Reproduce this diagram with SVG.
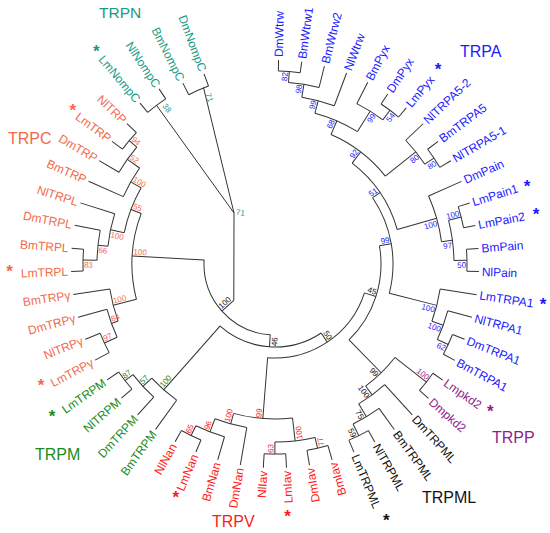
<svg xmlns="http://www.w3.org/2000/svg" width="550" height="533" viewBox="0 0 550 533">
<style>
text{font-family:"Liberation Sans",Arial,sans-serif}
.lf{font-size:12px}
.bs{font-size:8px}
.cl{font-size:16px}
.st{font-size:17px;font-weight:bold;text-anchor:middle}
.cN{fill:#1a9a84}.cC{fill:#f26a4b}.cM{fill:#1b8c1b}.cV{fill:#ff1a1a}.cA{fill:#1a1aff}.cP{fill:#8e1f8e}.cK{fill:#111}
.e{text-anchor:end}
</style>
<rect width="550" height="533" fill="#fff"/>
<g id="connectors" transform="translate(275,264)" fill="none" stroke="#333" stroke-width="1">
<circle r="193" stroke-dasharray="21.93 2000" transform="rotate(-89)"/>
<circle r="182" stroke-dasharray="31.03 2000" transform="rotate(-85.75)"/>
<circle r="169" stroke-dasharray="33.60 2000" transform="rotate(-80.86)"/>
<circle r="192" stroke-dasharray="21.82 2000" transform="rotate(-56.45)"/>
<circle r="180" stroke-dasharray="30.66 2000" transform="rotate(-62.96)"/>
<circle r="156" stroke-dasharray="46.53 2000" transform="rotate(-75.17)"/>
<circle r="191" stroke-dasharray="21.70 2000" transform="rotate(-36.92)"/>
<circle r="180" stroke-dasharray="30.66 2000" transform="rotate(-43.43)"/>
<circle r="141" stroke-dasharray="69.08 2000" transform="rotate(-66.62)"/>
<circle r="192" stroke-dasharray="21.82 2000" transform="rotate(-17.39)"/>
<circle r="192" stroke-dasharray="21.82 2000" transform="rotate(-4.37)"/>
<circle r="179" stroke-dasharray="40.68 2000" transform="rotate(-14.14)"/>
<circle r="168" stroke-dasharray="47.71 2000" transform="rotate(-23.9)"/>
<circle r="127" stroke-dasharray="81.61 2000" transform="rotate(-52.59)"/>
<circle r="191" stroke-dasharray="21.70 2000" transform="rotate(21.67)"/>
<circle r="179" stroke-dasharray="30.52 2000" transform="rotate(15.16)"/>
<circle r="167" stroke-dasharray="33.20 2000" transform="rotate(8.65)"/>
<circle r="118" stroke-dasharray="99.95 2000" transform="rotate(-34.18)"/>
<circle r="192" stroke-dasharray="21.82 2000" transform="rotate(34.69)"/>
<circle r="191" stroke-dasharray="21.70 2000" transform="rotate(60.73)"/>
<circle r="178" stroke-dasharray="30.35 2000" transform="rotate(54.22)"/>
<circle r="163" stroke-dasharray="32.40 2000" transform="rotate(47.71)"/>
<circle r="152" stroke-dasharray="40.99 2000" transform="rotate(37.95)"/>
<circle r="106" stroke-dasharray="102.86 2000" transform="rotate(-9.92)"/>
<circle r="189" stroke-dasharray="21.47 2000" transform="rotate(73.75)"/>
<circle r="190" stroke-dasharray="21.59 2000" transform="rotate(86.77)"/>
<circle r="178" stroke-dasharray="40.48 2000" transform="rotate(77)"/>
<circle r="191" stroke-dasharray="21.70 2000" transform="rotate(112.81)"/>
<circle r="180" stroke-dasharray="30.69 2000" transform="rotate(106.3)"/>
<circle r="166" stroke-dasharray="33.00 2000" transform="rotate(99.79)"/>
<circle r="155" stroke-dasharray="59.46 2000" transform="rotate(83.51)"/>
<circle r="94" stroke-dasharray="125.71 2000" transform="rotate(17.88)"/>
<circle r="190" stroke-dasharray="21.59 2000" transform="rotate(138.85)"/>
<circle r="180" stroke-dasharray="30.66 2000" transform="rotate(132.34)"/>
<circle r="168" stroke-dasharray="33.34 2000" transform="rotate(125.83)"/>
<circle r="83" stroke-dasharray="109.08 2000" transform="rotate(56.2)"/>
<circle r="71" stroke-dasharray="110.72 2000" transform="rotate(93.85)"/>
<circle r="188" stroke-dasharray="21.36 2000" transform="rotate(151.87)"/>
<circle r="174" stroke-dasharray="29.64 2000" transform="rotate(155.13)"/>
<circle r="167" stroke-dasharray="33.20 2000" transform="rotate(160.01)"/>
<circle r="192" stroke-dasharray="21.82 2000" transform="rotate(177.91)"/>
<circle r="178" stroke-dasharray="30.32 2000" transform="rotate(181.17)"/>
<circle r="168" stroke-dasharray="33.40 2000" transform="rotate(186.05)"/>
<circle r="191" stroke-dasharray="21.70 2000" transform="rotate(216.97)"/>
<circle r="181" stroke-dasharray="30.86 2000" transform="rotate(210.46)"/>
<circle r="166" stroke-dasharray="33.00 2000" transform="rotate(203.95)"/>
<circle r="154" stroke-dasharray="48.11 2000" transform="rotate(191.75)"/>
<circle r="143" stroke-dasharray="87.36 2000" transform="rotate(165.7)"/>
<circle r="198" stroke-dasharray="22.50 2000" transform="rotate(229.99)"/>
<circle r="190" stroke-dasharray="21.59 2000" transform="rotate(243.01)"/>
<line x1="193" x2="204" transform="rotate(-89)"/>
<line x1="193" x2="204" transform="rotate(-82.49)"/>
<line x1="182" x2="204" transform="rotate(-75.98)"/>
<line x1="169" x2="204" transform="rotate(-69.47)"/>
<line x1="180" x2="204" transform="rotate(-62.96)"/>
<line x1="192" x2="204" transform="rotate(-56.45)"/>
<line x1="192" x2="204" transform="rotate(-49.94)"/>
<line x1="180" x2="204" transform="rotate(-43.43)"/>
<line x1="191" x2="204" transform="rotate(-36.92)"/>
<line x1="191" x2="204" transform="rotate(-30.41)"/>
<line x1="168" x2="204" transform="rotate(-23.9)"/>
<line x1="192" x2="204" transform="rotate(-17.39)"/>
<line x1="192" x2="204" transform="rotate(-10.88)"/>
<line x1="192" x2="204" transform="rotate(-4.37)"/>
<line x1="192" x2="204" transform="rotate(2.14)"/>
<line x1="167" x2="204" transform="rotate(8.65)"/>
<line x1="179" x2="204" transform="rotate(15.16)"/>
<line x1="191" x2="204" transform="rotate(21.67)"/>
<line x1="191" x2="204" transform="rotate(28.18)"/>
<line x1="192" x2="204" transform="rotate(34.69)"/>
<line x1="192" x2="204" transform="rotate(41.2)"/>
<line x1="163" x2="204" transform="rotate(47.71)"/>
<line x1="178" x2="204" transform="rotate(54.22)"/>
<line x1="191" x2="204" transform="rotate(60.73)"/>
<line x1="191" x2="204" transform="rotate(67.24)"/>
<line x1="189" x2="204" transform="rotate(73.75)"/>
<line x1="189" x2="204" transform="rotate(80.26)"/>
<line x1="190" x2="204" transform="rotate(86.77)"/>
<line x1="190" x2="204" transform="rotate(93.28)"/>
<line x1="166" x2="204" transform="rotate(99.79)"/>
<line x1="180" x2="204" transform="rotate(106.3)"/>
<line x1="191" x2="204" transform="rotate(112.81)"/>
<line x1="191" x2="204" transform="rotate(119.32)"/>
<line x1="168" x2="204" transform="rotate(125.83)"/>
<line x1="180" x2="204" transform="rotate(132.34)"/>
<line x1="190" x2="204" transform="rotate(138.85)"/>
<line x1="190" x2="204" transform="rotate(145.36)"/>
<line x1="188" x2="204" transform="rotate(151.87)"/>
<line x1="188" x2="204" transform="rotate(158.38)"/>
<line x1="174" x2="204" transform="rotate(164.89)"/>
<line x1="167" x2="204" transform="rotate(171.4)"/>
<line x1="192" x2="204" transform="rotate(177.91)"/>
<line x1="192" x2="204" transform="rotate(184.42)"/>
<line x1="178" x2="204" transform="rotate(190.93)"/>
<line x1="168" x2="204" transform="rotate(197.44)"/>
<line x1="166" x2="204" transform="rotate(203.95)"/>
<line x1="181" x2="204" transform="rotate(210.46)"/>
<line x1="191" x2="204" transform="rotate(216.97)"/>
<line x1="191" x2="204" transform="rotate(223.48)"/>
<line x1="198" x2="210" transform="rotate(229.99)"/>
<line x1="198" x2="210" transform="rotate(236.5)"/>
<line x1="190" x2="203" transform="rotate(243.01)"/>
<line x1="190" x2="203" transform="rotate(249.52)"/>
<line x1="182" x2="193" transform="rotate(-85.75)"/>
<line x1="169" x2="182" transform="rotate(-80.86)"/>
<line x1="156" x2="169" transform="rotate(-75.17)"/>
<line x1="180" x2="192" transform="rotate(-53.2)"/>
<line x1="156" x2="180" transform="rotate(-58.08)"/>
<line x1="141" x2="156" transform="rotate(-66.62)"/>
<line x1="180" x2="191" transform="rotate(-33.67)"/>
<line x1="141" x2="180" transform="rotate(-38.55)"/>
<line x1="127" x2="141" transform="rotate(-52.59)"/>
<line x1="179" x2="192" transform="rotate(-14.14)"/>
<line x1="179" x2="192" transform="rotate(-1.12)"/>
<line x1="168" x2="179" transform="rotate(-7.63)"/>
<line x1="127" x2="168" transform="rotate(-15.77)"/>
<line x1="118" x2="127" transform="rotate(-34.18)"/>
<line x1="179" x2="191" transform="rotate(24.93)"/>
<line x1="167" x2="179" transform="rotate(20.04)"/>
<line x1="118" x2="167" transform="rotate(14.35)"/>
<line x1="106" x2="118" transform="rotate(-9.92)"/>
<line x1="152" x2="192" transform="rotate(37.95)"/>
<line x1="178" x2="191" transform="rotate(63.99)"/>
<line x1="163" x2="178" transform="rotate(59.1)"/>
<line x1="152" x2="163" transform="rotate(53.4)"/>
<line x1="106" x2="152" transform="rotate(45.68)"/>
<line x1="94" x2="106" transform="rotate(17.88)"/>
<line x1="178" x2="189" transform="rotate(77)"/>
<line x1="178" x2="190" transform="rotate(90.03)"/>
<line x1="155" x2="178" transform="rotate(83.51)"/>
<line x1="180" x2="191" transform="rotate(116.07)"/>
<line x1="166" x2="180" transform="rotate(111.18)"/>
<line x1="155" x2="166" transform="rotate(105.49)"/>
<line x1="94" x2="155" transform="rotate(94.5)"/>
<line x1="83" x2="94" transform="rotate(56.2)"/>
<line x1="180" x2="190" transform="rotate(142.1)"/>
<line x1="168" x2="180" transform="rotate(137.2)"/>
<line x1="83" x2="168" transform="rotate(131.5)"/>
<line x1="71" x2="83" transform="rotate(93.85)"/>
<line x1="174" x2="188" transform="rotate(155.13)"/>
<line x1="167" x2="174" transform="rotate(160.01)"/>
<line x1="143" x2="167" transform="rotate(165.7)"/>
<line x1="178" x2="192" transform="rotate(181.17)"/>
<line x1="168" x2="178" transform="rotate(186.05)"/>
<line x1="154" x2="168" transform="rotate(191.75)"/>
<line x1="181" x2="191" transform="rotate(220.23)"/>
<line x1="166" x2="181" transform="rotate(215.34)"/>
<line x1="154" x2="166" transform="rotate(209.65)"/>
<line x1="143" x2="154" transform="rotate(200.7)"/>
<line x1="71" x2="143" transform="rotate(183.2)"/>
<line x1="55" x2="71" transform="rotate(138.5)"/>
<path d="M-41.2,36.4 L-41,-51 M-41,-51 L-118.5,-158.7 M-41,-51 L-71.5,-176.5"/>
</g>
<g id="leaves" class="lf" transform="translate(275,264)">
<g id="n-DmWtrw" class="cA"><text x="207" y="4.2" transform="rotate(-89)">DmWtrw</text></g>
<g id="n-BmWtrw1" class="cA"><text x="207" y="4.2" transform="rotate(-82.49)">BmWtrw1</text></g>
<g id="n-BmWtrw2" class="cA"><text x="207" y="4.2" transform="rotate(-75.98)">BmWtrw2</text></g>
<g id="n-NlWtrw" class="cA"><text x="207" y="4.2" transform="rotate(-69.47)">NlWtrw</text></g>
<g id="n-BmPyx" class="cA"><text x="207" y="4.2" transform="rotate(-62.96)">BmPyx</text></g>
<g id="n-DmPyx" class="cA"><text x="207" y="4.2" transform="rotate(-56.45)">DmPyx</text></g>
<g id="n-LmPyx" class="cA"><text x="207" y="4.2" transform="rotate(-49.94)">LmPyx</text></g>
<g id="n-NlTRPA5-2" class="cA"><text x="207" y="4.2" transform="rotate(-43.43)">NlTRPA5-2</text></g>
<g id="n-BmTRPA5" class="cA"><text x="207" y="4.2" transform="rotate(-36.92)">BmTRPA5</text></g>
<g id="n-NlTRPA5-1" class="cA"><text x="207" y="4.2" transform="rotate(-30.41)">NlTRPA5-1</text></g>
<g id="n-DmPain" class="cA"><text x="207" y="4.2" transform="rotate(-23.9)">DmPain</text></g>
<g id="n-LmPain1" class="cA"><text x="207" y="4.2" transform="rotate(-17.39)">LmPain1</text></g>
<g id="n-LmPain2" class="cA"><text x="207" y="4.2" transform="rotate(-10.88)">LmPain2</text></g>
<g id="n-BmPain" class="cA"><text x="207" y="4.2" transform="rotate(-4.37)">BmPain</text></g>
<g id="n-NlPain" class="cA"><text x="207" y="4.2" transform="rotate(2.14)">NlPain</text></g>
<g id="n-LmTRPA1" class="cA"><text x="207" y="4.2" transform="rotate(8.65)">LmTRPA1</text></g>
<g id="n-NlTRPA1" class="cA"><text x="207" y="4.2" transform="rotate(15.16)">NlTRPA1</text></g>
<g id="n-DmTRPA1" class="cA"><text x="207" y="4.2" transform="rotate(21.67)">DmTRPA1</text></g>
<g id="n-BmTRPA1" class="cA"><text x="207" y="4.2" transform="rotate(28.18)">BmTRPA1</text></g>
<g id="n-Lmpkd2" class="cP"><text x="207" y="4.2" transform="rotate(34.69)">Lmpkd2</text></g>
<g id="n-Dmpkd2" class="cP"><text x="207" y="4.2" transform="rotate(41.2)">Dmpkd2</text></g>
<g id="n-DmTRPML" class="cK"><text x="207" y="4.2" transform="rotate(47.71)">DmTRPML</text></g>
<g id="n-BmTRPML" class="cK"><text x="207" y="4.2" transform="rotate(54.22)">BmTRPML</text></g>
<g id="n-NlTRPML" class="cK"><text x="207" y="4.2" transform="rotate(60.73)">NlTRPML</text></g>
<g id="n-LmTRPML" class="cK"><text x="207" y="4.2" transform="rotate(67.24)">LmTRPML</text></g>
<g id="n-BmIav" class="cV"><text class="e" x="-207" y="4.2" transform="rotate(-106.25)">BmIav</text></g>
<g id="n-DmIav" class="cV"><text class="e" x="-207" y="4.2" transform="rotate(-99.74)">DmIav</text></g>
<g id="n-LmIav" class="cV"><text class="e" x="-207" y="4.2" transform="rotate(-93.23)">LmIav</text></g>
<g id="n-NlIav" class="cV"><text class="e" x="-207" y="4.2" transform="rotate(-86.72)">NlIav</text></g>
<g id="n-DmNan" class="cV"><text class="e" x="-207" y="4.2" transform="rotate(-80.21)">DmNan</text></g>
<g id="n-BmNan" class="cV"><text class="e" x="-207" y="4.2" transform="rotate(-73.7)">BmNan</text></g>
<g id="n-LmNan" class="cV"><text class="e" x="-207" y="4.2" transform="rotate(-67.19)">LmNan</text></g>
<g id="n-NlNan" class="cV"><text class="e" x="-207" y="4.2" transform="rotate(-60.68)">NlNan</text></g>
<g id="n-BmTRPM" class="cM"><text class="e" x="-207" y="4.2" transform="rotate(-54.17)">BmTRPM</text></g>
<g id="n-DmTRPM" class="cM"><text class="e" x="-207" y="4.2" transform="rotate(-47.66)">DmTRPM</text></g>
<g id="n-NlTRPM" class="cM"><text class="e" x="-207" y="4.2" transform="rotate(-41.15)">NlTRPM</text></g>
<g id="n-LmTRPM" class="cM"><text class="e" x="-207" y="4.2" transform="rotate(-34.64)">LmTRPM</text></g>
<g id="n-LmTRPg" class="cC"><text class="e" x="-207" y="4.2" transform="rotate(-28.13)">LmTRPγ</text></g>
<g id="n-NlTRPg" class="cC"><text class="e" x="-207" y="4.2" transform="rotate(-21.62)">NlTRPγ</text></g>
<g id="n-DmTRPg" class="cC"><text class="e" x="-207" y="4.2" transform="rotate(-15.11)">DmTRPγ</text></g>
<g id="n-BmTRPg" class="cC"><text class="e" x="-207" y="4.2" transform="rotate(-8.6)">BmTRPγ</text></g>
<g id="n-LmTRPL" class="cC"><text class="e" x="-207" y="4.2" transform="rotate(-2.09)">LmTRPL</text></g>
<g id="n-BmTRPL" class="cC"><text class="e" x="-207" y="4.2" transform="rotate(4.42)">BmTRPL</text></g>
<g id="n-DmTRPL" class="cC"><text class="e" x="-207" y="4.2" transform="rotate(10.93)">DmTRPL</text></g>
<g id="n-NlTRPL" class="cC"><text class="e" x="-207" y="4.2" transform="rotate(17.44)">NlTRPL</text></g>
<g id="n-BmTRP" class="cC"><text class="e" x="-207" y="4.2" transform="rotate(23.95)">BmTRP</text></g>
<g id="n-DmTRP" class="cC"><text class="e" x="-207" y="4.2" transform="rotate(30.46)">DmTRP</text></g>
<g id="n-LmTRP" class="cC"><text class="e" x="-207" y="4.2" transform="rotate(36.97)">LmTRP</text></g>
<g id="n-NlTRP" class="cC"><text class="e" x="-207" y="4.2" transform="rotate(43.48)">NlTRP</text></g>
<g id="n-LmNompC" class="cN"><text class="e" x="-213" y="4.2" transform="rotate(49.99)">LmNompC</text></g>
<g id="n-NlNompC" class="cN"><text class="e" x="-213" y="4.2" transform="rotate(56.5)">NlNompC</text></g>
<g id="n-BmNompC" class="cN"><text class="e" x="-206" y="4.2" transform="rotate(63.01)">BmNompC</text></g>
<g id="n-DmNompC" class="cN"><text class="e" x="-206" y="4.2" transform="rotate(69.52)">DmNompC</text></g>
</g>
<g id="support" class="bs" transform="translate(275,264)">
<g class="cA">
<text class="e" x="192" y="-1.5" transform="rotate(-85.75)">82</text>
<text class="e" x="181" y="-1.5" transform="rotate(-80.86)">98</text>
<text class="e" x="168" y="-1.5" transform="rotate(-75.17)">99</text>
<text class="e" x="179" y="7.5" transform="rotate(-58.08)">99</text>
<text class="e" x="191" y="7.5" transform="rotate(-53.2)">54</text>
<text class="e" x="155" y="-1.5" transform="rotate(-66.62)">68</text>
<text class="e" x="190" y="7.5" transform="rotate(-33.67)">80</text>
<text class="e" x="179" y="7.5" transform="rotate(-38.55)">80</text>
<text class="e" x="140" y="-1.5" transform="rotate(-52.59)">92</text>
<text class="e" x="191" y="-1.5" transform="rotate(-14.14)">100</text>
<text class="e" x="191" y="7.5" transform="rotate(-1.12)">50</text>
<text class="e" x="178" y="7.5" transform="rotate(-7.63)">97</text>
<text class="e" x="167" y="7.5" transform="rotate(-15.77)">100</text>
<text class="e" x="126" y="-1.5" transform="rotate(-34.18)">51</text>
<text class="e" x="190" y="7.5" transform="rotate(24.93)">62</text>
<text class="e" x="178" y="7.5" transform="rotate(20.04)">100</text>
<text class="e" x="166" y="7.5" transform="rotate(14.35)">100</text>
<text class="e" x="117" y="-1.5" transform="rotate(-9.92)">99</text>
</g>
<text class="e cP" x="191" y="-1.5" transform="rotate(37.95)">100</text>
<g class="cK">
<text class="e" x="190" y="7.5" transform="rotate(63.99)">59</text>
<text class="e" x="177" y="7.5" transform="rotate(59.1)">75</text>
<text class="e" x="162" y="7.5" transform="rotate(53.4)">100</text>
<text class="e" x="151" y="7.5" transform="rotate(45.68)">99</text>
<text class="e" x="105" y="-1.5" transform="rotate(17.88)">45</text>
<text class="e" x="93" y="-1.5" transform="rotate(56.2)">50</text>
<text x="-82" y="7.5" transform="rotate(-86.15)">46</text>
<text x="-70" y="-1.5" transform="rotate(-41.5)">100</text>
</g>
<g class="cV">
<text x="-188" y="7.5" transform="rotate(-103)">77</text>
<text x="-189" y="-1.5" transform="rotate(-89.97)">63</text>
<text x="-177" y="7.5" transform="rotate(-96.49)">100</text>
<text x="-190" y="-1.5" transform="rotate(-63.93)">65</text>
<text x="-179" y="-1.5" transform="rotate(-68.82)">96</text>
<text x="-165" y="-1.5" transform="rotate(-74.51)">100</text>
<text x="-154" y="-1.5" transform="rotate(-85.5)">99</text>
</g>
<g class="cM">
<text x="-189" y="-1.5" transform="rotate(-37.9)">87</text>
<text x="-179" y="-1.5" transform="rotate(-42.8)">57</text>
<text x="-167" y="-1.5" transform="rotate(-48.5)">100</text>
</g>
<g class="cC">
<text x="-187" y="-1.5" transform="rotate(-24.87)">97</text>
<text x="-173" y="-1.5" transform="rotate(-19.99)">84</text>
<text x="-166" y="-1.5" transform="rotate(-14.3)">100</text>
<text x="-191" y="7.5" transform="rotate(1.17)">83</text>
<text x="-177" y="7.5" transform="rotate(6.05)">66</text>
<text x="-167" y="7.5" transform="rotate(11.75)">100</text>
<text x="-190" y="-1.5" transform="rotate(40.23)">94</text>
<text x="-180" y="-1.5" transform="rotate(35.34)">52</text>
<text x="-165" y="-1.5" transform="rotate(29.65)">100</text>
<text x="-153" y="-1.5" transform="rotate(20.7)">55</text>
<text x="-142" y="-1.5" transform="rotate(3.2)">100</text>
</g>
</g>
<g id="support-trpn" class="bs cN">
<text transform="translate(235.6,214.5) rotate(10)">71</text>
<text transform="translate(162.1,106) rotate(55)">38</text>
<text transform="translate(205.3,94.3) rotate(70)">71</text>
</g>
<g id="stars" class="st">
<text class="cN" x="96.3" y="57.3">*</text>
<text class="cC" x="72.8" y="115.6">*</text>
<text class="cC" x="9.5" y="276.5">*</text>
<text class="cC" x="41" y="390.6">*</text>
<text class="cM" x="52" y="422.3">*</text>
<text class="cV" x="175.8" y="502.8">*</text>
<text class="cV" x="287.5" y="522.3">*</text>
<text class="cK" x="386.2" y="525.6">*</text>
<text class="cP" x="490.3" y="416.8">*</text>
<text class="cA" x="543" y="309.5">*</text>
<text class="cA" x="536" y="219.8">*</text>
<text class="cA" x="527" y="191.8">*</text>
<text class="cA" x="438" y="75.3">*</text>
</g>
<g id="clade-labels" class="cl">
<g id="TRPN"><text class="cN" x="99" y="18" style="font-size:15.5px">TRPN</text></g>
<g id="TRPA"><text class="cA" x="460" y="56.5">TRPA</text></g>
<g id="TRPC"><text class="cC" x="8" y="143.5">TRPC</text></g>
<g id="TRPM"><text class="cM" x="35" y="460">TRPM</text></g>
<g id="TRPV"><text class="cV" x="212" y="526.5">TRPV</text></g>
<g id="TRPML"><text class="cK" x="422" y="503">TRPML</text></g>
<g id="TRPP"><text class="cP" x="492" y="443">TRPP</text></g>
</g>
</svg>
